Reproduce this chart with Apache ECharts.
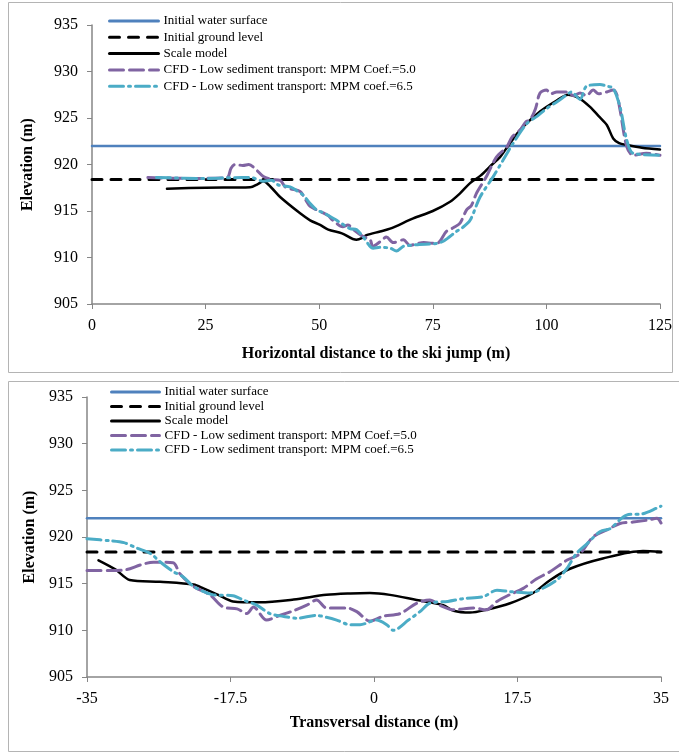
<!DOCTYPE html>
<html>
<head>
<meta charset="utf-8">
<script src="https://cdn.jsdelivr.net/npm/echarts@6/dist/echarts.min.js"></script>
<style>
  html, body { margin: 0; padding: 0; background: #fff; }
  #chart { width: 679px; height: 753px; }
</style>
</head>
<body>
<div id="chart"></div>
<script>
// series names
const names = [
  "Initial water surface",
  "Initial ground level",
  "Scale model",
  "CFD - Low sediment transport: MPM Coef.=5.0",
  "CFD - Low sediment transport: MPM coef.=6.5"
];

// top chart: longitudinal profile
const topXTicks = [0, 25, 50, 75, 100, 125];
const topWater = [[0, 922], [125, 922]];
const topGround = [[0, 918.4], [125, 918.4]];
const topScale = [[16.5,917.4],[25,917.5],[34.8,917.55],[36.5,917.9],[37.7,918.2],[39.5,917.5],[41.4,916.5],[45.8,914.75],[48,914],[50.2,913.5],[52,913],[55,912.6],[58.2,911.9],[59.5,912.1],[60.4,912.4],[63.4,912.8],[65.6,913.1],[70.7,914.2],[75,915],[78.8,916.0],[81,916.9],[83.2,918.0],[85.5,918.8],[87.6,919.8],[89.8,920.8],[91,921.6],[94.2,923.7],[98.6,925.7],[102,926.8],[104.8,927.5],[107,927.2],[109.6,926.2],[111.5,925.2],[113.3,924.25],[114.7,922.8],[116,922.3],[117.7,922.1],[121,921.8],[125,921.6]];
const topMpm50 = [[12.3,918.6],[22,918.5],[29.7,918.6],[30.6,919.6],[31.5,920.0],[33.2,919.9],[34.5,920.0],[36.2,919.4],[37.7,918.7],[39.5,918.4],[41.4,918.3],[42.5,917.6],[43.6,917.4],[45.8,917.1],[47,916.2],[48,915.5],[50.9,914.8],[52,914.5],[53,914],[55.2,913.3],[56.3,913.5],[57.5,913],[59.5,912.3],[61.2,911.9],[61.8,911.2],[63.4,911.7],[64.8,912.2],[66.3,911.6],[68.5,911.9],[70,911.3],[71.5,911.5],[73,911.6],[75.8,911.5],[78,912.8],[79.5,913.2],[81,913.7],[82.4,915.1],[83.5,915.6],[84.6,916.9],[86.8,918.7],[89,920.8],[91.3,921.9],[92.5,923],[94.2,923.7],[95.5,924.6],[96.4,924.8],[97.6,926],[98.6,927.7],[100,928],[101,927.6],[102.3,927.8],[104.5,927.8],[106,927.4],[107.4,927.7],[108.8,927.4],[110.3,928],[111.5,927.6],[113.3,927.8],[114.7,928],[115.5,927.5],[116.2,925.9],[117.7,921.9],[119.1,921.0],[122,921.2],[125,921.0]];
const topMpm65 = [[14.2,918.6],[25,918.5],[33,918.6],[35.4,918.55],[37.7,918.2],[39.5,918.3],[41,917.8],[43.6,917.6],[45,917.2],[46.5,916.7],[48,915.8],[49.5,915.1],[51,914.8],[52.4,914.4],[54.5,913.8],[56.8,913.1],[58.2,913],[59.7,912.2],[61.9,911],[63.5,911.1],[65.6,911],[67,910.7],[68.5,911.2],[70,911.3],[72,911.4],[75.8,911.5],[77.5,911.8],[80.2,912.8],[81.5,913.2],[83.2,914],[85.4,916.5],[88.3,918.7],[90.5,920.5],[92.7,922.3],[95.7,924.4],[98,925.2],[100,926],[102.5,926.8],[104.5,927.5],[105.5,927.8],[107.4,927],[108.8,928.4],[111.8,928.6],[113.5,928.4],[114.7,928.2],[116.2,926.2],[117.7,922.6],[119.1,921.2],[125,921.0]];

// bottom chart: transversal profile
const botXTicks = [-35, -17.5, 0, 17.5, 35];
const botWater = [[-35, 922], [35, 922]];
const botGround = [[-35, 918.4], [35, 918.4]];
const botScale = [[-33.6,917.5],[-31.5,916.5],[-29.8,915.4],[-26.1,915.2],[-22,914.9],[-20.8,914.5],[-19,913.8],[-17.2,913.1],[-13.9,913.0],[-9.8,913.3],[-5.8,913.8],[-2.9,913.95],[-0.5,914.0],[1.95,913.8],[5.2,913.25],[8.45,912.7],[9.7,912.1],[11.7,911.9],[13.7,912.2],[16.6,912.9],[19.4,914.0],[21.5,915.4],[23.9,916.6],[27.9,917.7],[32.8,918.5],[35,918.4]];
const botMpm50 = [[-35,916.4],[-32.2,916.4],[-30.2,916.5],[-28.5,917.0],[-26.9,917.3],[-24.5,917.25],[-23.7,916.1],[-22,914.7],[-20,913.8],[-18.4,912.5],[-16.7,912.3],[-15.5,911.8],[-14.7,912.5],[-13.1,911.1],[-11.5,911.6],[-9.8,912.1],[-8.2,912.7],[-7,913.25],[-5.8,912.4],[-3.3,912.4],[-2.1,912.0],[-0.5,911.0],[1.1,911.5],[3.2,911.8],[5.2,912.9],[6.8,913.25],[8,912.7],[9.7,912.2],[12.1,912.4],[13.7,912.2],[15,913.1],[16.5,913.8],[18.2,914.5],[19.8,915.5],[21.5,916.3],[23.5,917.5],[25.1,918.2],[26.7,920.0],[28.4,920.75],[30,921.45],[31.6,921.6],[33.3,921.8],[34.5,922.0],[35,921.5]];
const botMpm65 = [[-35,919.8],[-32.2,919.6],[-30.5,919.4],[-28.9,918.8],[-27.3,918.25],[-26.1,917.35],[-24.5,916.3],[-23.3,915.75],[-22,914.7],[-19.6,913.8],[-17.2,913.7],[-15.8,913.2],[-14.3,912.7],[-12.7,911.8],[-11.1,911.5],[-9.4,911.3],[-7,911.6],[-5.8,911.4],[-4.55,911.1],[-2.9,910.6],[-1.7,910.6],[0.3,911.1],[1.55,910.6],[2.35,910.0],[4.2,911.1],[5.6,912.0],[6.8,912.9],[9,913.1],[10.9,913.4],[13.3,913.6],[15,914.3],[16.6,914.15],[19,914.0],[20.8,914.6],[22.3,915.4],[23.5,916.6],[24.7,918.25],[26,919.3],[27.6,920.6],[28.8,920.9],[30.8,922.35],[32.8,922.5],[34.5,923.1],[35,923.3]];

const yTicks = [905, 910, 915, 920, 925, 930, 935];

const serif = "Liberation Serif";
const axisGray = "#868686";

const styles = [
  { color: "#4F81BD", width: 2.5, type: "solid" },
  { color: "#000000", width: 3, type: [10, 9] },
  { color: "#000000", width: 2.5, type: "solid" },
  { color: "#8064A2", width: 3, type: [14, 6] },
  { color: "#4BACC6", width: 3, type: [14, 5, 2, 5] }
];

function makeSeries(idx, datasets) {
  return datasets.map((d, i) => ({
    name: names[i],
    type: "line",
    xAxisIndex: idx,
    yAxisIndex: idx,
    data: d,
    symbol: "none",
    smooth: i >= 2 ? 0.3 : false,
    color: styles[i].color,
    lineStyle: {
      color: styles[i].color,
      width: styles[i].width,
      type: styles[i].type,
      cap: "round"
    },
    z: i === 0 ? 1 : 2 + i
  }));
}

function xAxis(idx, ticks, name, gap) {
  return {
    type: "value",
    gridIndex: idx,
    min: ticks[0],
    max: ticks[ticks.length - 1],
    interval: ticks[1] - ticks[0],
    name: name,
    nameLocation: "middle",
    nameGap: gap,
    nameTextStyle: { fontFamily: serif, fontSize: 16, fontWeight: "bold", color: "#000" },
    axisLine: { onZero: false, lineStyle: { color: axisGray, width: 1.5 } },
    axisTick: { show: true, inside: false, length: 5, lineStyle: { color: axisGray } },
    axisLabel: { fontFamily: serif, fontSize: 16, color: "#000", margin: 14 },
    splitLine: { show: false }
  };
}

function yAxis(idx, gap) {
  return {
    type: "value",
    gridIndex: idx,
    min: yTicks[0],
    max: yTicks[yTicks.length - 1],
    interval: yTicks[1] - yTicks[0],
    name: "Elevation (m)",
    nameLocation: "middle",
    nameGap: gap,
    nameTextStyle: { fontFamily: serif, fontSize: 16, fontWeight: "bold", color: "#000" },
    axisLine: { show: true, onZero: false, lineStyle: { color: axisGray, width: 1.5 } },
    axisTick: { show: true, inside: false, length: 5, lineStyle: { color: axisGray } },
    axisLabel: { fontFamily: serif, fontSize: 16, color: "#000", margin: 14 },
    splitLine: { show: false }
  };
}

function legend(left, top, width, gap) {
  return {
    orient: "vertical",
    left: left,
    top: top,
    itemWidth: width,
    itemHeight: 10,
    itemGap: gap,
    data: names,
    selectedMode: false,
    itemStyle: { opacity: 0 },
    lineStyle: { width: 3 },
    textStyle: { fontFamily: serif, fontSize: 13, color: "#000", lineHeight: 13 }
  };
}

const chart = echarts.init(document.getElementById("chart"));
chart.setOption({
  animation: false,
  backgroundColor: "#fff",
  grid: [
    { left: 92, right: 19, top: 25, height: 279 },
    { left: 87, right: 18, top: 397, height: 280 }
  ],
  xAxis: [
    xAxis(0, topXTicks, "Horizontal distance to the ski jump (m)", 42),
    xAxis(1, botXTicks, "Transversal distance (m)", 38)
  ],
  yAxis: [yAxis(0, 56), yAxis(1, 49)],
  legend: [legend(103, 9.5, 49, 3.3), legend(105, 380.5, 48, 1.5)],
  graphic: [
    { type: "rect", shape: { x: 8.5, y: 2.5, width: 664, height: 370 }, style: { fill: "none", stroke: "#b4b4b4", lineWidth: 1 }, silent: true },
    { type: "rect", shape: { x: 8.5, y: 381.5, width: 680, height: 370 }, style: { fill: "none", stroke: "#b4b4b4", lineWidth: 1 }, silent: true }
  ],
  series: [
    ...makeSeries(0, [topWater, topGround, topScale, topMpm50, topMpm65]),
    ...makeSeries(1, [botWater, botGround, botScale, botMpm50, botMpm65])
  ]
});
</script>
</body>
</html>
